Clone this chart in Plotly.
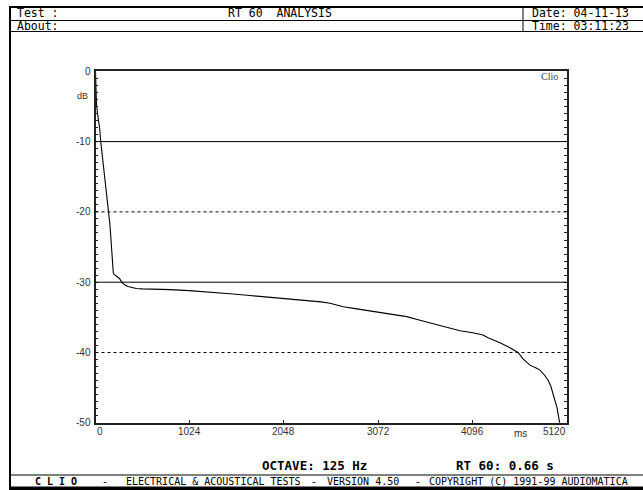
import plotly.graph_objects as go

W, H = 643, 490

# ---- data ----
time_ms = [0, 2, 5, 10, 20, 35, 46, 57, 70, 82, 95, 107, 120, 136, 147, 156, 165, 172,
           179, 186, 193, 203, 215, 240, 263, 291, 320, 353, 400, 443, 510, 571, 700,
           810, 1020, 1245, 1460, 1679, 1850, 2006, 2170, 2332, 2450, 2549, 2620, 2694,
           2840, 2984, 3100, 3201, 3383, 3527, 3636, 3800, 3962, 4100, 4212, 4267, 4397,
           4500, 4593, 4647, 4723, 4790, 4832, 4880, 4919, 4950, 4973, 5000, 5016, 5046]
level_db = [0.0, -1.5, -3.0, -4.5, -5.8, -7.2, -8.2, -10.0, -11.5, -13.0, -14.4, -15.8,
            -17.0, -18.6, -20.0, -21.7, -23.3, -24.8, -26.2, -27.5, -28.6, -28.9, -29.0,
            -29.2, -29.5, -30.1, -30.4, -30.6, -30.8, -30.9, -30.95, -30.95, -31.0, -31.05,
            -31.2, -31.4, -31.65, -31.9, -32.1, -32.3, -32.45, -32.6, -32.8, -33.0, -33.25,
            -33.5, -33.8, -34.1, -34.35, -34.6, -34.9, -35.4, -35.8, -36.35, -36.9, -37.2,
            -37.5, -37.9, -38.6, -39.3, -40.0, -40.9, -41.8, -42.2, -42.5, -43.2, -43.9,
            -44.8, -45.8, -46.9, -47.8, -50.0]

y_tick_vals = [0, -10, -20, -30, -40, -50]
y_tick_text = ["0", "-10", "-20", "-30", "-40", "-50"]
x_tick_vals = [0, 1024, 2048, 3072, 4096, 5120]
x_tick_text = ["0", "1024", "2048", "3072", "4096", "5120"]
solid_grid = [-10, -30]
dotted_grid = [-20, -40]

header_title = "RT 60  ANALYSIS"
header_test = "Test :"
header_about = "About:"
header_date = "Date: 04-11-13"
header_time = "Time: 03:11:23"
octave_text = "OCTAVE: 125 Hz"
rt60_text = "RT 60: 0.66 s"
footer_parts = ["C L I O", "-", "ELECTRICAL & ACOUSTICAL TESTS", "-", "VERSION 4.50", "-",
                "COPYRIGHT (C) 1991-99 AUDIOMATICA"]


def px(x):
    return x / W


def py(y):
    return 1 - y / H


PLOT_L, PLOT_R, PLOT_T, PLOT_B = 95.5, 566.5, 71.3, 422.8
MONO = "DejaVu Sans Mono"
SANS = "Liberation Sans"

fig = go.Figure()
fig.add_trace(go.Scatter(x=time_ms, y=level_db, mode="lines",
                         line=dict(color="#000000", width=1.1), hoverinfo="skip",
                         showlegend=False))

shapes = []
for g in solid_grid:
    shapes.append(dict(type="line", xref="x domain", x0=0, x1=1, yref="y", y0=g, y1=g,
                       line=dict(color="#000000", width=1)))
for g in dotted_grid:
    shapes.append(dict(type="line", xref="x domain", x0=0, x1=1, yref="y", y0=g, y1=g,
                       line=dict(color="#000000", width=1, dash="dot")))


def pline(x0, y0, x1, y1, w=1, color="#000000"):
    shapes.append(dict(type="line", xref="paper", yref="paper", x0=px(x0), y0=py(y0),
                       x1=px(x1), y1=py(y1), line=dict(color=color, width=w)))


# outer frame
pline(9, 7, 643, 7, 2)
pline(10, 6, 10, 490, 2)
pline(10, 20.5, 643, 20.5, 1)
pline(10, 31.5, 643, 31.5, 1)
pline(523, 7, 523, 31.5, 1)
pline(10, 475, 643, 475, 1)
shapes.append(dict(type="rect", xref="paper", yref="paper", x0=px(9), x1=px(643),
                   y0=py(490), y1=py(486.5), fillcolor="#000000", line=dict(width=0)))

ann = []


def text(x, y, s, size=12, family=MONO, bold=False, anchor="left", color="#000000"):
    if bold:
        s = "<b>" + s + "</b>"
    ann.append(dict(xref="paper", yref="paper", x=px(x), y=py(y), text=s, showarrow=False,
                    xanchor=anchor, yanchor="middle", borderpad=0,
                    font=dict(family=family, size=size, color=color)))


text(16, 13.5, header_test, size=11.5)
text(16, 26.5, header_about, size=11.5)
text(280, 13.5, header_title, size=11.5, anchor="center")
text(531, 13.5, header_date, size=11.5)
text(531, 26.5, header_time, size=11.5)
text(261, 465.5, octave_text, size=12.5, bold=True)
text(455, 465.5, rt60_text, size=12.5, bold=True)

footer_x = [34, 101, 125, 310, 326, 414, 428]
for i, (fx, s) in enumerate(zip(footer_x, footer_parts)):
    text(fx, 481, s, size=10, bold=(i == 0))

text(82, 95.5, "dB", size=9, family=SANS, anchor="center", color="#333333")
text(520, 433, "ms", size=10, family=SANS, anchor="center", color="#333333")
text(549, 76.5, "Clio", size=10, family="Liberation Serif", anchor="center", color="#444444")

# x tick labels placed on the x scale
for i, (v, t) in enumerate(zip(x_tick_vals, x_tick_text)):
    anchor = "left" if i == 0 else ("right" if i == len(x_tick_vals) - 1 else "center")
    ann.append(dict(xref="x", yref="paper", x=v, y=py(PLOT_B), text=t, showarrow=False,
                    xanchor=anchor, yanchor="top", yshift=-2, borderpad=0,
                    font=dict(family=SANS, size=10, color="#333333")))
# y tick labels placed on the y scale (keep ASCII hyphen)
for v, t in zip(y_tick_vals, y_tick_text):
    ann.append(dict(xref="paper", yref="y", x=px(PLOT_L - 4), y=v, text=t, showarrow=False,
                    xanchor="right", yanchor="middle", borderpad=0,
                    font=dict(family=SANS, size=10, color="#333333")))

fig.update_layout(
    width=W, height=H, autosize=False,
    margin=dict(l=0, r=0, t=0, b=0, pad=0),
    paper_bgcolor="#ffffff", plot_bgcolor="#ffffff",
    shapes=shapes, annotations=ann, showlegend=False,
    xaxis=dict(domain=[px(PLOT_L), px(PLOT_R)], range=[0, 5120], showgrid=False,
               zeroline=False, showline=True, linecolor="#222222", linewidth=1.5,
               mirror=True, tickvals=x_tick_vals, ticks="inside", ticklen=3,
               tickwidth=1, tickcolor="#222222", showticklabels=False, fixedrange=True),
    yaxis=dict(domain=[py(PLOT_B), py(PLOT_T)], range=[-50, 0], showgrid=False,
               zeroline=False, showline=True, linecolor="#222222", linewidth=1.5,
               mirror="ticks", tickmode="linear", tick0=0, dtick=10,
               ticks="inside", ticklen=3, tickwidth=1, tickcolor="#222222",
               showticklabels=False,
               minor=dict(tickmode="linear", tick0=0, dtick=1, ticks="inside", ticklen=3,
                          tickwidth=1, tickcolor="#222222", showgrid=False),
               fixedrange=True),
)

fig.write_html("out.html", config={"displayModeBar": False})
